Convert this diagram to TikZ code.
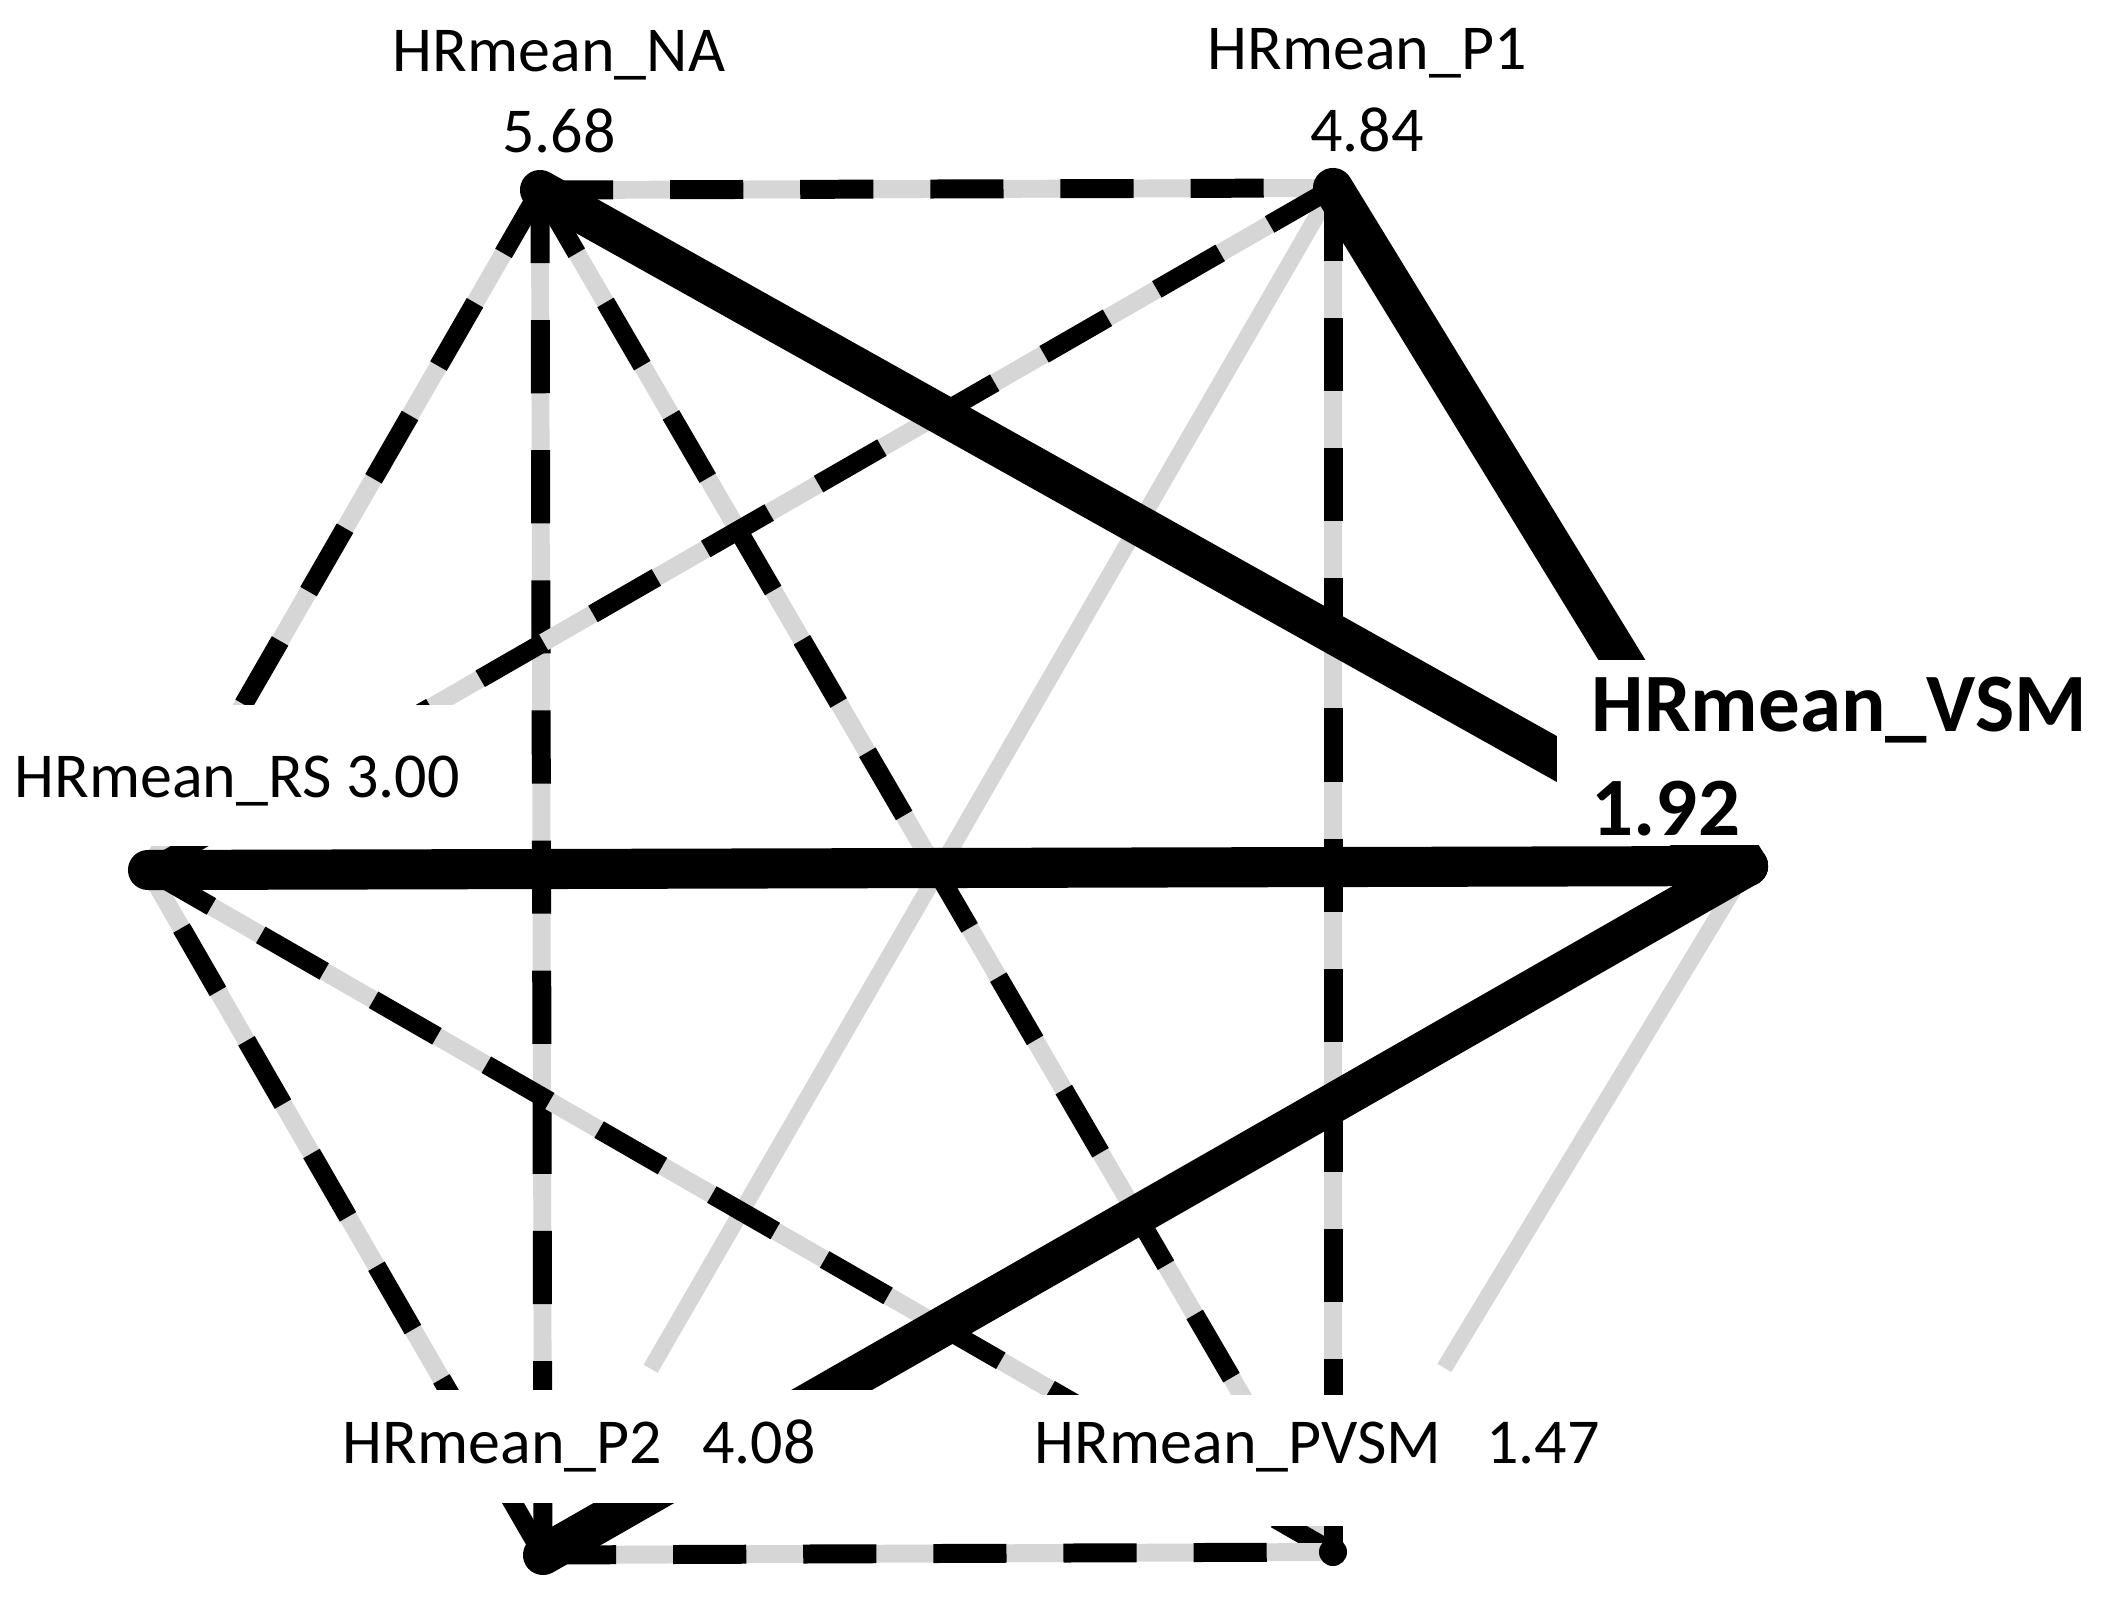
\documentclass[tikz,border=0pt]{standalone}
\usepackage{fontspec}
\setmainfont{Carlito}
\definecolor{lgrey}{RGB}{214,214,214}
\pgfdeclarelayer{bg}
\pgfsetlayers{bg,main}
\begin{document}
\begin{tikzpicture}[x=0.01cm,y=-0.01cm,
  dashedge/.style={draw=black, line width=5.4pt, dash pattern=on 20.8pt off 16.2pt, preaction={draw=lgrey, line width=5.1pt, solid}},
  greyedge/.style={draw=lgrey, line width=4.6pt, shorten >=2.15cm},
  thickedge/.style={draw=black, line width=11.4pt, line cap=round},
  vdot/.style={circle, fill=black, inner sep=0pt, minimum size=0.28cm},
  lbl/.style={font=\fontsize{18.2pt}{22pt}\selectfont, inner sep=0pt},
  vlbl/.style={font=\fontsize{23.6pt}{28pt}\selectfont\bfseries, inner sep=0pt},
  mask/.style={fill=white}]
\useasboundingbox (0,0) rectangle (2105,1597);

% nodes
\node[vdot] (NA) at (540,190) {};
\node[vdot] (P1) at (1333,188) {};
\node[vdot] (RS) at (148,870) {};
\node[vdot] (VSM) at (1748,866) {};
\node[vdot] (P2) at (543,1555) {};
\node[vdot] (PV) at (1333,1552) {};

\begin{pgfonlayer}{bg}
\fill[white] (0,0) rectangle (2105,1597);
\draw[greyedge] (P1.center) -- (P2.center);
\draw[greyedge] (VSM.center) -- (PV.center);
\draw[dashedge] (NA.center) -- (P1.center);
\draw[dashedge] (NA.center) -- (RS.center);
\draw[dashedge] (NA.center) -- (P2.center);
\draw[dashedge] (NA.center) -- (PV.center);
\draw[dashedge] (P1.center) -- (RS.center);
\draw[dashedge] (P1.center) -- (PV.center);
\draw[dashedge] (P2.center) -- (RS.center);
\draw[dashedge] (RS.center) -- (PV.center);
\draw[dashedge] (P2.center) -- (PV.center);
\draw[thickedge] (NA.center) -- (VSM.center);
\draw[thickedge] (P1.center) -- (VSM.center);
\draw[thickedge] (RS.center) -- (VSM.center);
\draw[thickedge] (VSM.center) -- (P2.center);
\end{pgfonlayer}

% label backgrounds
\fill[mask] (0,705) rectangle (500,846);
\fill[mask] (1557,660) rectangle (2105,845);
\fill[mask] (320,1390) rectangle (890,1503);
\fill[mask] (1000,1395) rectangle (1640,1526);

% labels
\node[lbl, anchor=base] (tNA) at (559,72) {HRmean\_NA};
\node[lbl, anchor=base] (vNA) at (559,153) {5.68};
\node[lbl, anchor=base] (tP1) at (1367,70) {HRmean\_P1};
\node[lbl, anchor=base] (vP1) at (1367,152) {4.84};
\node[lbl, anchor=base west] (tRS) at (14,797) {HRmean\_RS 3.00};
\node[vlbl, anchor=base west] (tVSM) at (1591,731) {HRmean\_VSM};
\node[vlbl, anchor=base west] (vVSM) at (1591,835) {1.92};
\node[lbl, anchor=base west] (tP2) at (342,1463) {HRmean\_P2\hspace{0.4cm}4.08};
\node[lbl, anchor=base west] (tPV) at (1034,1463) {HRmean\_PVSM\hspace{0.45cm}1.47};
\end{tikzpicture}
\end{document}
